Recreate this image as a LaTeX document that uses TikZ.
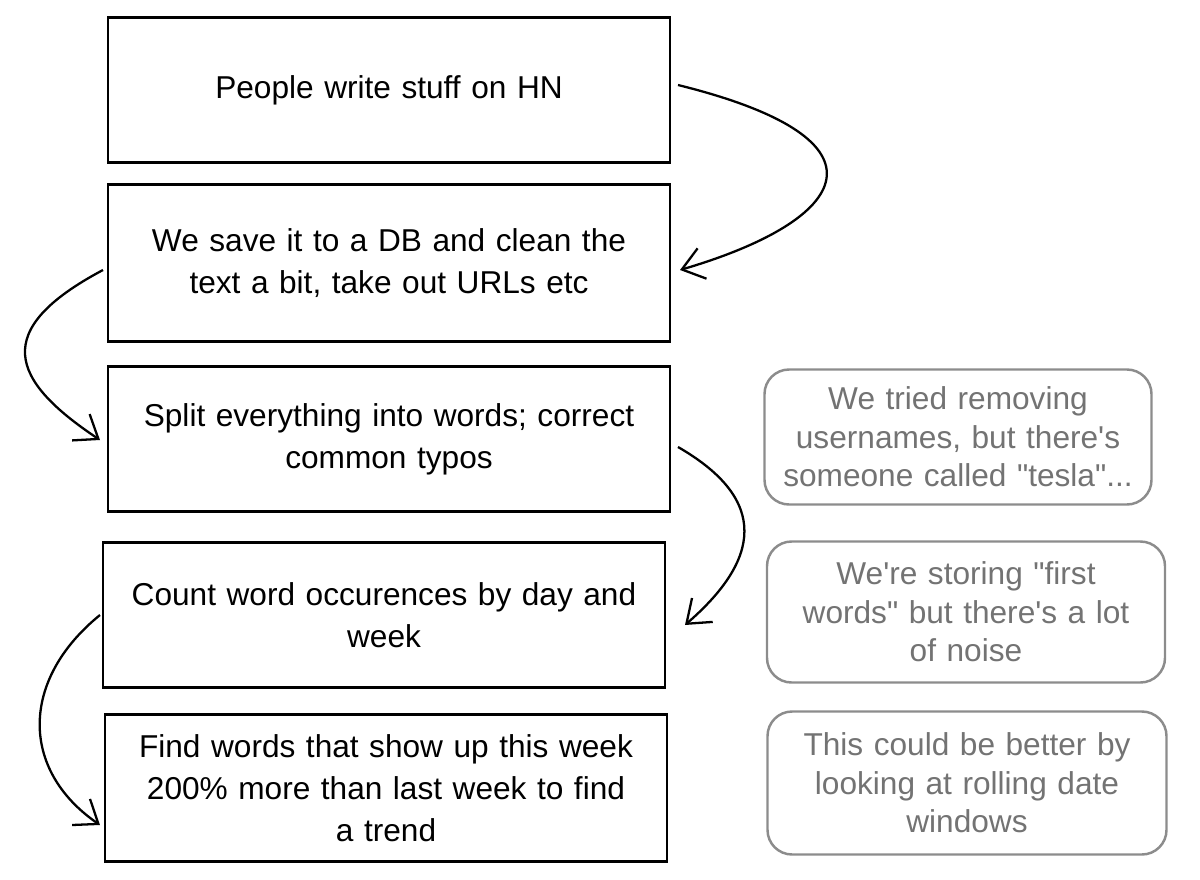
\documentclass[tikz,border=0pt]{standalone}
\usepackage{fontspec}
\setmainfont{Liberation Sans}[Ligatures=TeXOff]
\usetikzlibrary{arrows.meta}
\begin{document}
\begin{tikzpicture}[x=0.02cm,y=-0.02cm,
  stepbox/.style={draw=black,line width=1.6pt,minimum width=562*0.02cm,minimum height=145*0.02cm,align=center,font=\fontsize{18}{24}\selectfont,text width=540*0.02cm},
  note/.style={draw=gray!90,line width=1.4pt,rounded corners=14pt,align=center,font=\fontsize{18}{22}\selectfont,text=gray!90!black,text width=370*0.02cm},
  arr/.style={line width=1.3pt,-{Straight Barb[length=12pt,width=18pt]}}]
\useasboundingbox (0,0) rectangle (1200,879);
\node[stepbox] (b1) at (389,90) {People write stuff on HN};
\node[stepbox,minimum height=157*0.02cm] (b2) at (389,263) {We save it to a DB and clean the\\text a bit, take out URLs etc};
\node[stepbox] (b3) at (389,439) {Split everything into words; correct\\common typos};
\node[stepbox] (b4) at (384,615) {Count word occurences by day and\\week};
\node[stepbox,minimum height=147*0.02cm] (b5) at (386,788) {Find words that show up this week\\200\% more than last week to find\\a trend};
\node[note,minimum width=387*0.02cm,minimum height=135*0.02cm] (n1) at (958,437) {We tried removing\\usernames, but there's\\someone called "tesla"...};
\node[note,minimum width=398*0.02cm,minimum height=141*0.02cm] (n2) at (966,612) {We're storing "first\\words" but there's a lot\\of noise};
\node[note,minimum width=399*0.02cm,minimum height=143*0.02cm] (n3) at (967,783) {This could be better by\\looking at rolling date\\windows};
\coordinate (a1s) at (678,85); \coordinate (a1e) at (680,270);
\coordinate (a2s) at (103,270); \coordinate (a2e) at (100,440);
\coordinate (a3s) at (678,447); \coordinate (a3e) at (685,625);
\coordinate (a4s) at (100,615); \coordinate (a4e) at (100,825);
\draw[arr] (a1s) .. controls (900,140) and (850,220) .. (a1e);
\draw[arr] (a2s) .. controls (-10,330) and (10,380) .. (a2e);
\draw[arr] (a3s) .. controls (770,500) and (760,560) .. (a3e);
\draw[arr] (a4s) .. controls (20,680) and (20,770) .. (a4e);
\end{tikzpicture}
\end{document}
